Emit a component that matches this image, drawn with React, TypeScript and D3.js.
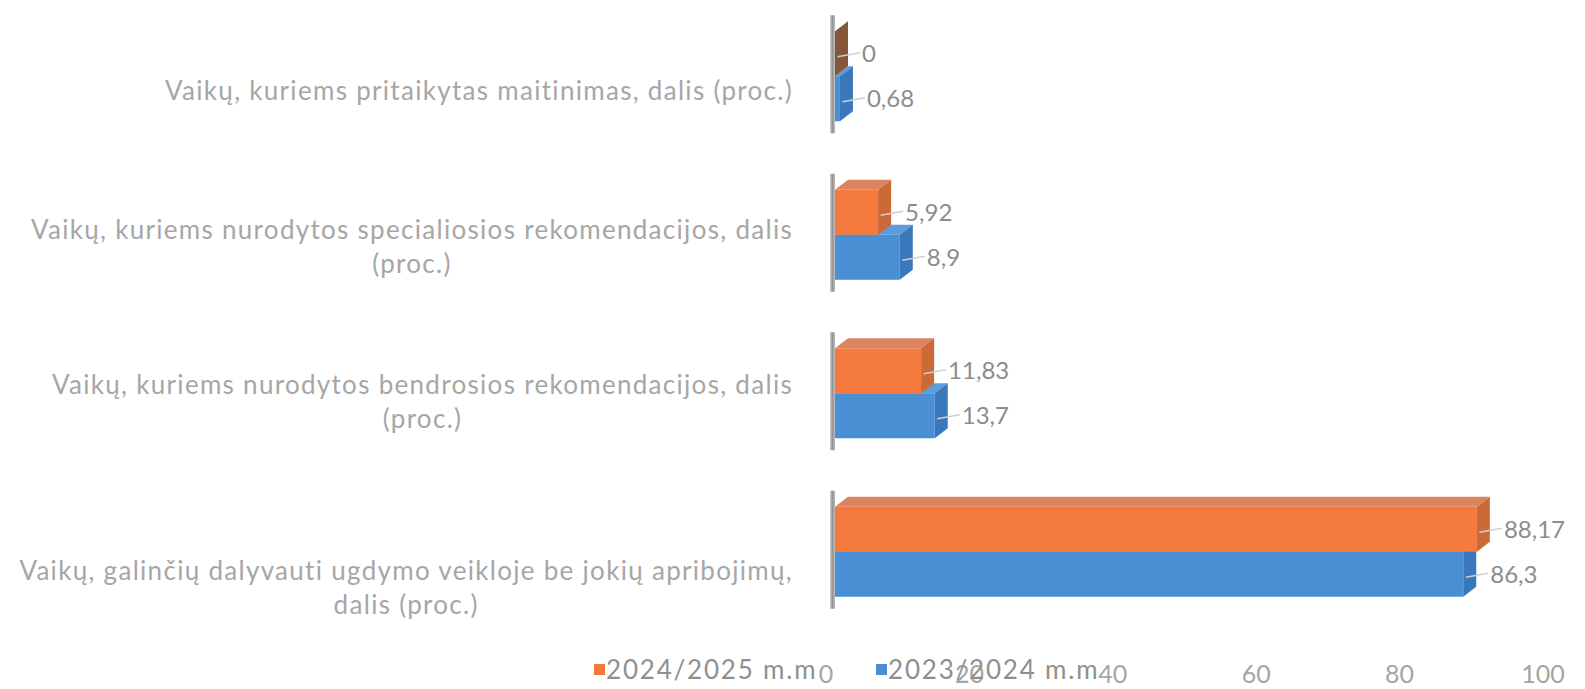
import React, { useEffect, useRef } from 'react';
import * as d3 from 'd3';

const categories = [
  'Vaikų, kuriems pritaikytas maitinimas, dalis (proc.)',
  'Vaikų, kuriems nurodytos specialiosios rekomendacijos, dalis (proc.)',
  'Vaikų, kuriems nurodytos bendrosios rekomendacijos, dalis (proc.)',
  'Vaikų, galinčių dalyvauti ugdymo veikloje be jokių apribojimų, dalis (proc.)',
];
const categoryLines = [
  ['Vaikų, kuriems pritaikytas maitinimas, dalis (proc.)'],
  ['Vaikų, kuriems nurodytos specialiosios rekomendacijos, dalis', '(proc.)'],
  ['Vaikų, kuriems nurodytos bendrosios rekomendacijos, dalis', '(proc.)'],
  ['Vaikų, galinčių dalyvauti ugdymo veikloje be jokių apribojimų,', 'dalis (proc.)'],
];
const seriesNames = ['2024/2025 m.m', '2023/2024 m.m'];
const values2024 = [0, 5.92, 11.83, 88.17];
const values2023 = [0.68, 8.9, 13.7, 86.3];
const tickValues = [0, 20, 40, 60, 80, 100];

const palette = [
  { front: '#F47B3D', top: '#DB8560', side: '#CC6A37', zero: '#84573A' },
  { front: '#4A8FD4', top: '#5E9BDA', side: '#3A78BC', zero: '#2f5f95' },
];

const FONT = 'Lato, "Open Sans", sans-serif';
const fmt = (v: number) => String(v).replace('.', ',');

export default function App() {
  const ref = useRef<SVGSVGElement>(null);
  useEffect(() => {
    const svg = d3.select(ref.current);
    svg.selectAll('*').remove();

    const x = d3.scaleLinear().domain([0, 100]).range([835, 1563]);
    const xTick = d3.scaleLinear().domain([0, 100]).range([826, 1543]);
    const y = d3.scaleBand<string>().domain(categories).range([-3, 631]);
    const ys = d3.scaleBand<string>().domain(seriesNames).range([-45, 45]);
    // category label centres (3D perspective shifts them a little from the bars)
    const yLabel = d3.scaleLinear().domain([0, 1, 2, 3]).range([91, 247, 402, 588]);
    const dx = 13, dy = 10;
    const seriesValues = [values2024, values2023];

    const defs = svg.append('defs');
    const grad = defs.append('linearGradient').attr('id', 'wallGrad').attr('x1', '0').attr('x2', '1');
    grad.append('stop').attr('offset', '0%').attr('stop-color', '#c4c4c4');
    grad.append('stop').attr('offset', '50%').attr('stop-color', '#7a7a7a');
    grad.append('stop').attr('offset', '100%').attr('stop-color', '#b0b0b0');

    const g = svg.append('g');

    categories.forEach((cat, i) => {
      const c = (y(cat) as number) + y.bandwidth() / 2;
      const x0 = x(0);
      g.append('rect')
        .attr('x', x0 - 5).attr('y', c - 45 - dy - 6)
        .attr('width', 5).attr('height', 90 + dy + 18)
        .attr('fill', 'url(#wallGrad)').attr('opacity', 0.8);

      [1, 0].forEach((si) => {
        const v = seriesValues[si][i];
        const col = palette[si];
        const y0 = c + (ys(seriesNames[si]) as number);
        const y1 = y0 + ys.bandwidth();
        const x1 = x(v);
        g.append('polygon')
          .attr('points', [[x0, y0], [x1, y0], [x1 + dx, y0 - dy], [x0 + dx, y0 - dy]].map(p => p.join(',')).join(' '))
          .attr('fill', col.top);
        g.append('rect')
          .attr('x', x0).attr('y', y0).attr('width', Math.max(0, x1 - x0)).attr('height', y1 - y0)
          .attr('fill', col.front);
        g.append('polygon')
          .attr('points', [[x1, y0], [x1 + dx, y0 - dy], [x1 + dx, y1 - dy], [x1, y1]].map(p => p.join(',')).join(' '))
          .attr('fill', v === 0 ? col.zero : col.side);
      });

      [0, 1].forEach((si) => {
        const v = seriesValues[si][i];
        const y0 = c + (ys(seriesNames[si]) as number);
        const ym = y0 + ys.bandwidth() / 2;
        const x1 = x(v);
        const lx = x1 + dx + 14;
        g.append('line')
          .attr('x1', x1 + dx / 2 - 4).attr('y1', ym + 3)
          .attr('x2', lx - 2).attr('y2', ym - 1)
          .attr('stroke', '#cfcfcf').attr('stroke-width', 1.3);
        g.append('text')
          .attr('x', lx).attr('y', ym).attr('dy', '0.35em')
          .attr('font-family', FONT).attr('font-size', 24)
          .attr('fill', '#8c8c8c')
          .text(fmt(v));
      });

      const lines = categoryLines[i];
      const n = lines.length;
      const cy = yLabel(i);
      const texts = lines.map((ln, k) =>
        g.append('text')
          .attr('y', cy + (k - (n - 1) / 2) * 33.8)
          .attr('dy', '0.35em')
          .attr('text-anchor', 'middle')
          .attr('font-family', FONT).attr('font-size', 26)
          .attr('letter-spacing', 1.3)
          .attr('fill', '#a6a6a6')
          .text(ln)
      );
      const maxW = d3.max(texts, t => (t.node() as SVGTextElement).getComputedTextLength()) || 0;
      texts.forEach(t => t.attr('x', 793 - maxW / 2));
    });

    tickValues.forEach(tv => {
      g.append('text')
        .attr('x', xTick(tv)).attr('y', 683)
        .attr('text-anchor', 'middle')
        .attr('font-family', FONT).attr('font-size', 25)
        .attr('fill', '#a5a5a5')
        .text(String(tv));
    });

    const legendX = [594, 876];
    seriesNames.forEach((name, si) => {
      g.append('rect')
        .attr('x', legendX[si]).attr('y', 664).attr('width', 11).attr('height', 11)
        .attr('fill', palette[si].front);
      g.append('text')
        .attr('x', legendX[si] + 12).attr('y', 679)
        .attr('font-family', FONT).attr('font-size', 26)
        .attr('letter-spacing', 1.8)
        .attr('fill', '#8f8f8f')
        .text(name);
    });
  }, []);
  return (
    <svg ref={ref} width={1585} height={689}
      style={{ position: 'absolute', left: 0, top: 0, background: '#fff' }} />
  );
}
